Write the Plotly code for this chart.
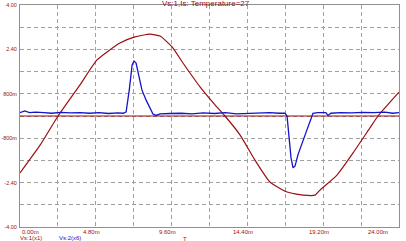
import plotly.graph_objects as go

# ---- data (time in ms, values in V) ----
red_t = [0.0, 1.27, 2.41, 3.80, 4.88, 6.33, 7.28, 8.23, 8.87, 9.63, 10.32, 11.40, 12.35, 12.98,
         13.93, 14.88, 15.83, 16.91, 17.92, 18.68, 19.00, 20.07, 21.09, 22.16, 22.67, 24.0]
red_v = [-2.05, -1.05, 0.0, 1.12, 2.02, 2.63, 2.85, 2.95, 2.88, 2.49, 1.91, 1.05, 0.40, 0.0,
         -0.68, -1.59, -2.38, -2.74, -2.85, -2.85, -2.67, -2.13, -1.33, -0.43, 0.0, 0.86]

blue_t = [0.0, 0.3, 0.6, 1.0, 1.5, 2.0, 2.6, 3.2, 3.8, 4.4, 5.0, 5.6, 6.2, 6.55, 6.72, 6.92, 7.1,
          7.22, 7.35, 7.5, 7.72, 7.98, 8.23, 8.42, 8.61, 8.87, 9.5, 10.2, 10.9, 11.6, 12.3, 13.0,
          13.7, 14.4, 15.1, 15.8, 16.4, 16.78, 16.91, 17.04, 17.16, 17.29, 17.42, 17.6, 17.86,
          18.17, 18.43, 18.55, 18.87, 19.37, 19.5, 19.69, 20.3, 21.0, 21.7, 22.4, 23.1, 23.6, 24.0]
blue_v = [0.12, 0.18, 0.12, 0.14, 0.12, 0.10, 0.13, 0.11, 0.12, 0.10, 0.12, 0.09, 0.11, 0.10, 0.15,
          0.94, 1.84, 1.98, 1.91, 1.50, 0.94, 0.58, 0.29, 0.07, 0.02, 0.08, 0.09, 0.10, 0.08, 0.11,
          0.09, 0.12, 0.08, 0.10, 0.11, 0.12, 0.10, 0.10, 0.0, -0.8, -1.5, -1.87, -1.80, -1.40,
          -0.95, -0.50, -0.10, 0.10, 0.12, 0.12, 0.02, 0.10, 0.12, 0.11, 0.13, 0.12, 0.14, 0.10, 0.12]

zero_t = [0.0, 24.0]
zero_v = [0.0, 0.0]

x_grid = [0, 2.4, 4.8, 7.2, 9.6, 12.0, 14.4, 16.8, 19.2, 21.6, 24.0]
x_label_vals = [0.0, 4.8, 9.6, 14.4, 19.2, 24.0]
x_label_text = ["0.00m", "4.80m", "9.60m", "14.40m", "19.20m", "24.00m"]
y_grid = [-4.0, -3.2, -2.4, -1.6, -0.8, 0.0, 0.8, 1.6, 2.4, 3.2, 4.0]
y_text = ["-4.00", "", "-2.40", "", "-800m", "", "800m", "", "2.40", "", "4.00"]

title_text = "Vs:1,Is: Temperature=27"
leg1 = "Vs:1(x1)"
leg2 = "Vs:2(x6)"
x_title = "T"

RED = "#9b0f0f"
BLUE = "#1414c8"
FAM = "Liberation Sans"

fig = go.Figure()
fig.add_trace(go.Scatter(x=zero_t, y=zero_v, mode="lines", line=dict(color=RED, width=1.1)))
fig.add_trace(go.Scatter(x=red_t, y=red_v, mode="lines",
                         line=dict(color=RED, width=1.2, shape="spline", smoothing=0.5)))
fig.add_trace(go.Scatter(x=blue_t, y=blue_v, mode="lines", line=dict(color=BLUE, width=1.3)))

font = dict(family=FAM, size=6, color=RED)
annotations = []
n = len(x_label_vals)
for i, (v, t) in enumerate(zip(x_label_vals, x_label_text)):
    if i == 0:
        anchor, shift = "left", 0
    elif i == n - 1:
        anchor, shift = "right", -9
    else:
        anchor, shift = "center", -4
    annotations.append(dict(text=t, x=v, y=0, xref="x", yref="paper", xanchor=anchor,
                            yanchor="top", xshift=shift, yshift=0, showarrow=False,
                            font=font))
annotations += [
    dict(text=title_text, x=0.49, y=1.0, xref="paper", yref="paper", xanchor="center",
         yanchor="bottom", showarrow=False, font=dict(family=FAM, size=8, color=RED), yshift=-5),
    dict(text=leg1, x=0, y=0, xref="paper", yref="paper", xanchor="left", yanchor="top",
         showarrow=False, xshift=-2, yshift=-6, font=dict(family=FAM, size=6, color=RED)),
    dict(text=leg2, x=0.097, y=0, xref="paper", yref="paper", xanchor="left", yanchor="top",
         showarrow=False, yshift=-6, font=dict(family=FAM, size=6, color=BLUE)),
    dict(text=x_title, x=0.435, y=0, xref="paper", yref="paper", xanchor="center", yanchor="top",
         showarrow=False, yshift=-7, font=dict(family=FAM, size=6, color=RED)),
]

yfont = dict(family=FAM, size=5.5, color=RED)
fig.update_layout(
    width=406, height=241,
    margin=dict(l=20, r=7, t=5, b=14, autoexpand=False),
    paper_bgcolor="white", plot_bgcolor="white",
    showlegend=False,
    font=font,
    xaxis=dict(range=[0, 24], tickvals=x_grid, showticklabels=False, showgrid=True,
               gridcolor="#a0a0a0", griddash="4px,3px", gridwidth=1, zeroline=False,
               showline=True, linecolor="#909090", mirror=True, ticks="", automargin=False),
    yaxis=dict(range=[-4, 4], tickvals=y_grid, ticktext=y_text, showgrid=True,
               gridcolor="#a0a0a0", griddash="4px,3px", gridwidth=1, zeroline=False,
               showline=True, linecolor="#909090", mirror=True, ticks="",
               tickfont=yfont, ticklabelstandoff=1, automargin=False),
    annotations=annotations,
)

fig.write_html("out.html")
